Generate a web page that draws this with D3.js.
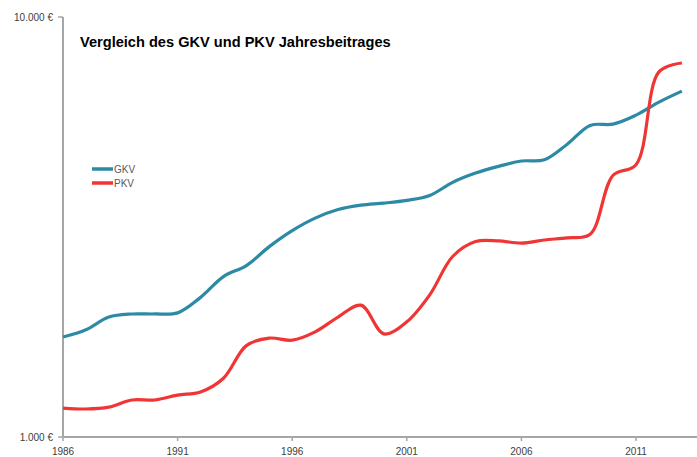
<!DOCTYPE html>
<html>
<head>
<meta charset="utf-8">
<script src="https://cdn.jsdelivr.net/npm/d3@7"></script>
<style>
  body { margin: 0; background: #fff; }
  text { font-family: "Liberation Sans", Arial, sans-serif; }
</style>
</head>
<body>
<script>
// years and yearly contributions (EUR)
var years = d3.range(1986, 2014);
var gkv = [1730, 1800, 1930, 1963, 1963, 1975, 2150, 2410, 2560, 2840, 3100, 3320, 3480, 3565, 3605, 3660, 3760, 4040, 4250, 4410, 4540, 4570, 4980, 5520, 5560, 5840, 6270, 6660];
var pkv = [1172, 1166, 1178, 1225, 1225, 1258, 1280, 1380, 1650, 1720, 1700, 1780, 1930, 2060, 1760, 1880, 2180, 2690, 2920, 2930, 2895, 2945, 2980, 3040, 4200, 4450, 7400, 7770];
var xTicks = [1986, 1991, 1996, 2001, 2006, 2011];
var yTicks = [1000, 10000];
var seriesNames = ["GKV", "PKV"];
var colors = ["#2c8aa5", "#f03535"];

var svg = d3.select("body").append("svg")
    .attr("width", 697)
    .attr("height", 457);

var x = d3.scaleLinear().domain([1986, 2013.66]).range([63, 697]);
var y = d3.scaleLog().domain([1000, 10000]).range([437, 17]);

var axisColor = "#a6a6a6";
var labelColor = "#404040";

// y axis
svg.append("line")
    .attr("x1", x(1986)).attr("x2", x(1986))
    .attr("y1", y(10000)).attr("y2", y(1000))
    .attr("stroke", axisColor).attr("stroke-width", 2);
svg.selectAll(".ytick").data(yTicks).enter().append("line")
    .attr("x1", x(1986) - 5).attr("x2", x(1986))
    .attr("y1", function(d) { return y(d); })
    .attr("y2", function(d) { return y(d); })
    .attr("stroke", axisColor).attr("stroke-width", 1.5);
svg.selectAll(".ylab").data(yTicks).enter().append("text")
    .attr("x", 53)
    .attr("y", function(d) { return y(d) + 3.5; })
    .attr("text-anchor", "end")
    .attr("font-size", "10px")
    .attr("fill", labelColor)
    .text(function(d) { return d3.format(",")(d).replace(/,/g, ".") + " €"; });

// x axis
svg.append("line")
    .attr("x1", x(1986)).attr("x2", 697)
    .attr("y1", y(1000)).attr("y2", y(1000))
    .attr("stroke", axisColor).attr("stroke-width", 2);
svg.selectAll(".xtick").data(xTicks).enter().append("line")
    .attr("x1", function(d) { return x(d); })
    .attr("x2", function(d) { return x(d); })
    .attr("y1", y(1000)).attr("y2", y(1000) + 4)
    .attr("stroke", axisColor).attr("stroke-width", 1.5);
svg.selectAll(".xlab").data(xTicks).enter().append("text")
    .attr("x", function(d) { return x(d); })
    .attr("y", 455)
    .attr("text-anchor", "middle")
    .attr("font-size", "10px")
    .attr("fill", labelColor)
    .text(function(d) { return d; });

// lines
var line = d3.line()
    .x(function(d, i) { return x(years[i]); })
    .y(function(d) { return y(d); })
    .curve(d3.curveCatmullRom.alpha(0.5));

[gkv, pkv].forEach(function(s, k) {
  svg.append("path")
      .datum(s)
      .attr("d", line)
      .attr("fill", "none")
      .attr("stroke", colors[k])
      .attr("stroke-width", 3.2)
      .attr("stroke-linejoin", "round");
});

// legend
var legend = svg.append("g").attr("transform", "translate(92,169)");
seriesNames.forEach(function(n, k) {
  legend.append("line")
      .attr("x1", 0).attr("x2", 21)
      .attr("y1", k * 14).attr("y2", k * 14)
      .attr("stroke", colors[k]).attr("stroke-width", 3.5);
  legend.append("text")
      .attr("x", 22).attr("y", k * 14 + 3.5)
      .attr("font-size", "10px")
      .attr("fill", "#595959")
      .text(n);
});

// title
svg.append("text")
    .attr("x", 80).attr("y", 47)
    .attr("font-size", "14.6px")
    .attr("font-weight", "bold")
    .attr("fill", "#000")
    .text("Vergleich des GKV und PKV Jahresbeitrages");
</script>
</body>
</html>
